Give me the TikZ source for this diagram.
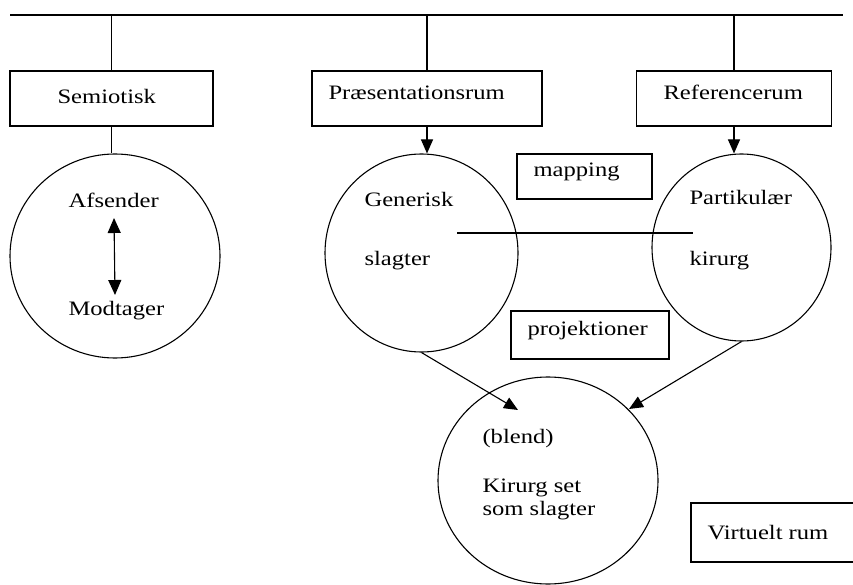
\documentclass[tikz,border=0pt]{standalone}
\usepackage{fontspec}
\setmainfont{Liberation Serif}[FakeStretch=1.2]
\usetikzlibrary{shapes.geometric,arrows.meta}
\begin{document}
\begin{tikzpicture}[x=1pt,y=-1pt,
  line width=1.1pt,
  lbl/.style={anchor=base west,inner sep=0pt,font=\fontsize{20.5}{24}\selectfont},
  boxn/.style={draw,rectangle,inner sep=0pt},
  blob/.style={draw,ellipse,inner sep=0pt},
  arr/.style={-{Triangle[width=12pt,length=14pt]}},
  darr/.style={{Triangle[width=13pt,length=15pt]}-{Triangle[width=13pt,length=15pt]}}]
\clip (0,0) rectangle (853,585);
% top line
\coordinate (tl) at (10,15);
\coordinate (tr) at (843,15);
\draw (tl) -- (tr);
% boxes
\node[boxn,minimum width=203pt,minimum height=55pt] (semio) at (111.5,98.5) {};
\node[boxn,minimum width=230pt,minimum height=55pt] (pres) at (427,98.5) {};
\node[boxn,minimum width=195pt,minimum height=55pt] (ref) at (734,98.5) {};
\node[boxn,minimum width=135pt,minimum height=45pt] (map) at (584.5,176.5) {};
\node[boxn,minimum width=158pt,minimum height=48pt] (proj) at (590,335) {};
\node[boxn,minimum width=175pt,minimum height=59pt] (virt) at (778.5,532.5) {};
% circles
\node[blob,minimum width=210pt,minimum height=204pt] (c1) at (115,256) {};
\node[blob,minimum width=193pt,minimum height=198pt] (c2) at (421.5,253) {};
\node[blob,minimum width=179pt,minimum height=187pt] (c3) at (741.5,247.5) {};
\node[blob,minimum width=220pt,minimum height=207pt] (blend) at (548,480.5) {};
% labels
\node[lbl] (tsemio) at (57,104) {Semiotisk};
\node[lbl] (tpres) at (328,100) {Præsentationsrum};
\node[lbl] (tref) at (663,100) {Referencerum};
\node[lbl] (afs) at (68,208) {Afsender};
\node[lbl] (mod) at (68,315) {Modtager};
\node[lbl] (gen) at (364,207) {Generisk};
\node[lbl] (slag) at (364,265) {slagter};
\node[lbl] (tmap) at (533,177) {mapping};
\node[lbl] (part) at (689,205) {Partikulær};
\node[lbl] (kir) at (689,265) {kirurg};
\node[lbl] (tproj) at (527,335) {projektioner};
\node[lbl] (tblend) at (482,443) {(blend)};
\node[lbl] (kset) at (482,492) {Kirurg set};
\node[lbl] (sslag) at (482,515) {som slagter};
\node[lbl] (tvirt) at (707,539) {Virtuelt rum};
% connectors
\draw (semio.north |- tl) -- (semio.north);
\draw (pres.north |- tl) -- (pres.north);
\draw (ref.north |- tl) -- (ref.north);
\draw (semio.south) -- (semio.south |- c1.north);
\draw[arr] (pres.south) -- (pres.south |- c2.north);
\draw[arr] (ref.south) -- (ref.south |- c3.north);
\coordinate (au) at (114,218);
\coordinate (ad) at (115,295);
\draw[darr] (au) -- (ad);
\coordinate (ml) at (457,233);
\coordinate (mr) at (693,233);
\draw (ml) -- (mr);
\coordinate (bl) at (518,410);
\coordinate (br) at (629,409);
\draw[arr] (c2.south) -- (bl);
\draw[arr] (c3.south) -- (br);
\end{tikzpicture}
\end{document}
